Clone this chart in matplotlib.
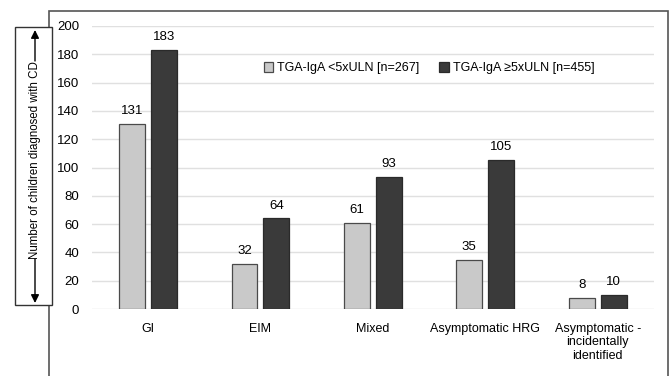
import numpy as np
import matplotlib.pyplot as plt
from matplotlib.patches import Rectangle, FancyArrowPatch

plt.rcParams['font.family'] = ['Liberation Sans', 'DejaVu Sans']

categories = ['GI', 'EIM', 'Mixed', 'Asymptomatic HRG', 'Asymptomatic -\nincidentally\nidentified']
low_vals = [131, 32, 61, 35, 8]
high_vals = [183, 64, 93, 105, 10]
low_label = 'TGA-IgA <5xULN [n=267]'
high_label = 'TGA-IgA \u22655xULN [n=455]'
y_ticks = [0, 20, 40, 60, 80, 100, 120, 140, 160, 180, 200]

fig = plt.figure(figsize=(6.7, 3.76), dpi=100)
ax = fig.add_axes([0.137, 0.178, 0.839, 0.753])

x = np.arange(len(categories))
w = 0.23
off = 0.142
b1 = ax.bar(x - off, low_vals, w, color='#c9c9c9', edgecolor='#4a4a4a', linewidth=0.9, label=low_label, zorder=3)
b2 = ax.bar(x + off, high_vals, w, color='#3a3a3a', edgecolor='#2a2a2a', linewidth=0.9, label=high_label, zorder=3)

for bars in (b1, b2):
    for r in bars:
        ax.annotate(str(int(r.get_height())), (r.get_x() + r.get_width() / 2, r.get_height()),
                    xytext=(0, 5), textcoords='offset points', ha='center', va='bottom', fontsize=9.5)

ax.set_xlim(-0.5, len(categories) - 0.5)
ax.set_ylim(0, 200)
ax.set_yticks(y_ticks)
ax.yaxis.grid(True, color='#e0e0e0', linewidth=1.0, zorder=0)
ax.set_axisbelow(True)
for s in ax.spines.values():
    s.set_visible(False)
ax.tick_params(length=0)
ax.tick_params(axis='y', pad=9, labelsize=9.5)
ax.tick_params(axis='x', pad=10, labelsize=9)
ax.set_xticks(x)
ax.set_xticklabels(categories, linespacing=1.15)

ax.legend(loc='center', bbox_to_anchor=(0.6, 0.85), ncol=2, frameon=False, fontsize=9,
          handlelength=0.75, handleheight=0.75, handletextpad=0.3, columnspacing=1.6)

# outer frame
fig.patches.append(Rectangle((49 / 670, -0.05), (668 - 49) / 670, 1 - 11 / 376 + 0.05,
                             transform=fig.transFigure, fill=False, edgecolor='#555555', linewidth=1.2))

# y label box with arrows
fig.patches.append(Rectangle((15 / 670, 1 - 305 / 376), 37 / 670, 278 / 376,
                             transform=fig.transFigure, facecolor='white', edgecolor='#333333', linewidth=1.0, zorder=5))
fig.text(35 / 670, 1 - 160 / 376, 'Number of children diagnosed with CD', rotation=90,
         ha='center', va='center', fontsize=8.3, zorder=6)
for y0, y1 in ((61, 30), (259, 303)):
    fig.patches.append(FancyArrowPatch((35 / 670, 1 - y0 / 376), (35 / 670, 1 - y1 / 376),
                                       transform=fig.transFigure, arrowstyle='-|>', mutation_scale=12,
                                       color='black', linewidth=1.0, zorder=6, shrinkA=0, shrinkB=0))

fig.savefig('out.png', dpi=100)
